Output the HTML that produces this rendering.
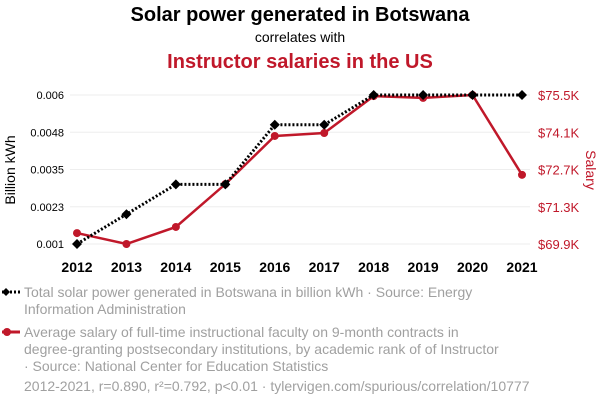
<!DOCTYPE html>
<html><head><meta charset="utf-8"><style>
body{margin:0;width:600px;height:408px;background:#fff;font-family:"Liberation Sans",sans-serif;overflow:hidden}
</style></head><body>
<svg width="600" height="408" id="svg">
<text x="300" y="21" text-anchor="middle" font-size="20" font-weight="bold" fill="#000">Solar power generated in Botswana</text>
<text x="300" y="42" text-anchor="middle" font-size="14" fill="#000">correlates with</text>
<text x="300" y="68" text-anchor="middle" font-size="20" font-weight="bold" fill="#c0182a">Instructor salaries in the US</text>
<text transform="translate(15,170) rotate(-90)" text-anchor="middle" font-size="14" fill="#000">Billion kWh</text>
<text transform="translate(586,170) rotate(90)" text-anchor="middle" font-size="14" fill="#c0182a">Salary</text>
<g id="grid"></g><g id="axes"></g><g id="marks"></g>
<g font-size="14" fill="#a0a0a0">
<line x1="2" y1="292" x2="20" y2="292" stroke="#000" stroke-width="3" stroke-dasharray="2,2"/>
<path d="M6 288 L10 292 L6 296 L2 292Z" fill="#000"/>
<text x="24" y="297">Total solar power generated in Botswana in billion kWh · Source: Energy</text>
<text x="24" y="314">Information Administration</text>
<line x1="2" y1="332" x2="20" y2="332" stroke="#c0182a" stroke-width="3"/>
<circle cx="7" cy="332" r="4" fill="#c0182a"/>
<text x="24" y="337">Average salary of full-time instructional faculty on 9-month contracts in</text>
<text x="24" y="354">degree-granting postsecondary institutions, by academic rank of of Instructor</text>
<text x="24" y="371">· Source: National Center for Education Statistics</text>
<text x="24" y="391">2012-2021, r=0.890, r²=0.792, p&lt;0.01 · tylervigen.com/spurious/correlation/10777</text>
</g>
</svg>
<script>
const years=[2012,2013,2014,2015,2016,2017,2018,2019,2020,2021];
const solar=[0.001,0.002,0.003,0.003,0.005,0.005,0.006,0.006,0.006,0.006];
const salary=[70.31,69.9,70.54,72.15,73.96,74.07,75.46,75.39,75.5,72.5];
const leftTicks=[0.001,0.0023,0.0035,0.0048,0.006];
const rightTicks=[69.9,71.3,72.7,74.1,75.5];
const NS="http://www.w3.org/2000/svg";
const x=i=>77+i*(522-77)/9;
const yL=v=>244-(v-0.001)/0.005*149;
const yR=v=>244-(v-69.9)/5.6*149;
function mk(t,a,p){const e=document.createElementNS(NS,t);for(const k in a)e.setAttribute(k,a[k]);document.getElementById(p).appendChild(e);return e;}
leftTicks.forEach((v,i)=>{const y=244-i*37.25;
const g=mk('line',{x1:70,x2:530,y1:y,y2:y,stroke:'#eee'},'grid');


const t=mk('text',{x:64,y:y+4,'text-anchor':'end','font-size':11,fill:'#000'},'axes');t.textContent=v;

});
rightTicks.forEach((v,i)=>{const y=244-i*37.25;
const t=mk('text',{x:538,y:y+5,'font-size':13,fill:'#c0182a'},'axes');t.textContent='$'+v.toFixed(1)+'K';

});
years.forEach((yr,i)=>{const t=mk('text',{x:x(i),y:272,'text-anchor':'middle','font-size':14,'font-weight':'bold',fill:'#000'},'axes');t.textContent=yr;

});
const sp=mk('polyline',{points:salary.map((v,i)=>x(i)+','+yR(v)).join(' '),fill:'none',stroke:'#c0182a','stroke-width':2.5},'marks');


salary.forEach((v,i)=>{const c=mk('circle',{cx:x(i),cy:yR(v),r:4,fill:'#c0182a'},'marks');

});
const lp=mk('polyline',{points:solar.map((v,i)=>x(i)+','+yL(v)).join(' '),fill:'none',stroke:'#000','stroke-width':3,'stroke-dasharray':'2,2'},'marks');


solar.forEach((v,i)=>{const X=x(i),Y=yL(v);const d=mk('path',{d:`M${X} ${Y-5}L${X+5} ${Y}L${X} ${Y+5}L${X-5} ${Y}Z`,fill:'#000'},'marks');

});
</script>
</body></html>
